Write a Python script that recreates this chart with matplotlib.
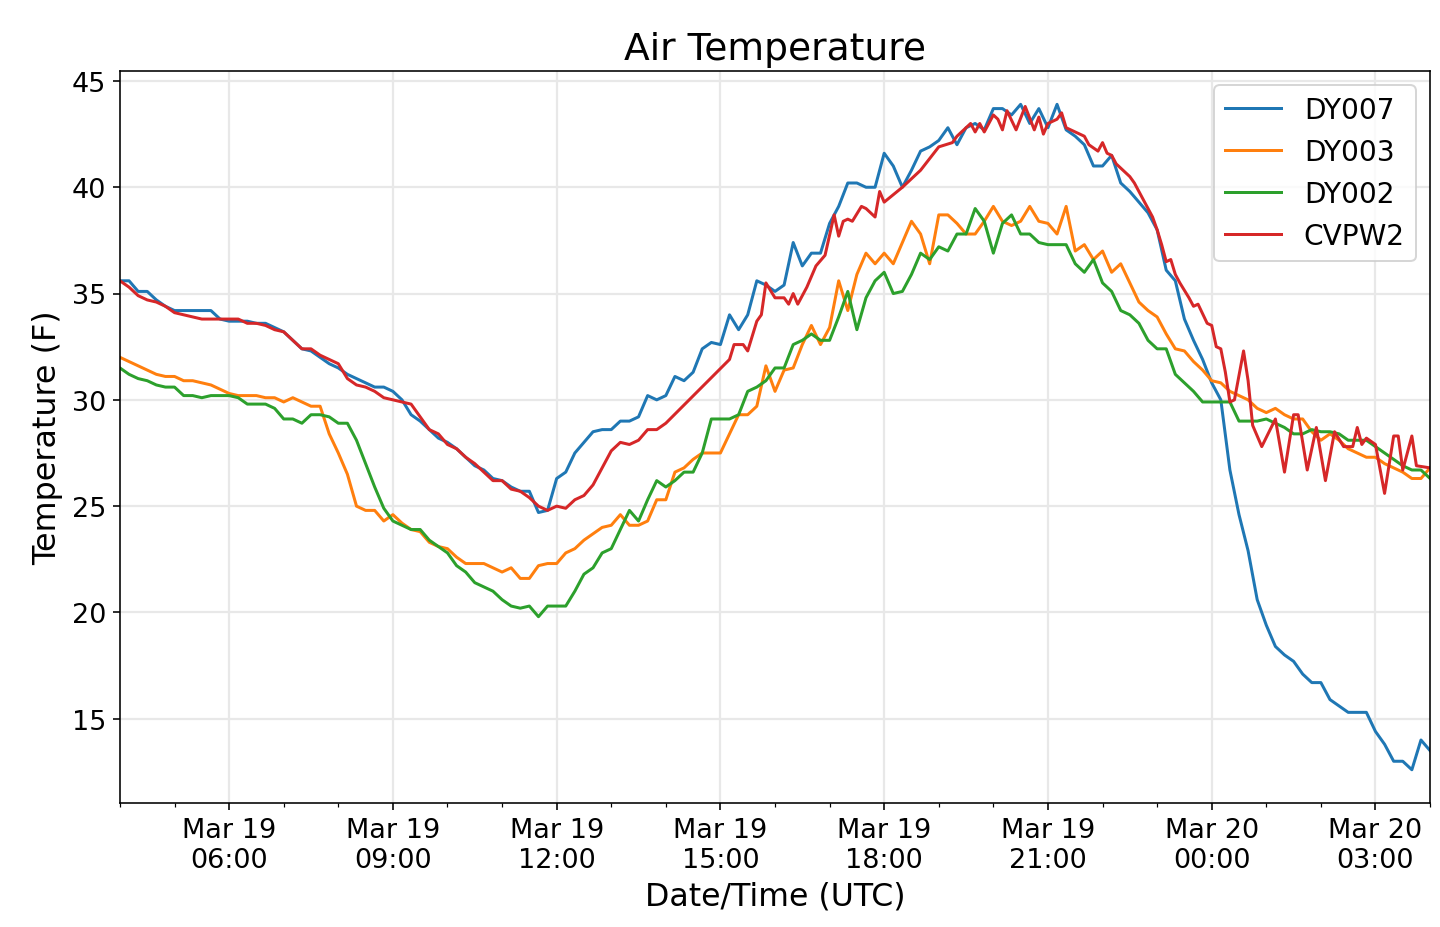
import numpy as np
import pandas as pd
import matplotlib
matplotlib.use('Agg')
import matplotlib.pyplot as plt
import matplotlib.dates as mdates

# 10-minute station readings starting Mar 19 04:00 UTC
start = pd.Timestamp('2019-03-19 04:00')

dy007 = [35.6, 35.6, 35.1, 35.1, 34.7, 34.4, 34.2, 34.2, 34.2, 34.2,
         34.2, 33.8, 33.7, 33.7, 33.7, 33.6, 33.6, 33.4, 33.2, 32.8,
         32.4, 32.3, 32.0, 31.7, 31.5, 31.2, 31.0, 30.8, 30.6, 30.6,
         30.4, 30.0, 29.3, 29.0, 28.6, 28.2, 28.0, 27.7, 27.3, 26.9,
         26.7, 26.3, 26.2, 25.9, 25.7, 25.7, 24.7, 24.8, 26.3, 26.6,
         27.5, 28.0, 28.5, 28.6, 28.6, 29.0, 29.0, 29.2, 30.2, 30.0,
         30.2, 31.1, 30.9, 31.3, 32.4, 32.7, 32.6, 34.0, 33.3, 34.0,
         35.6, 35.4, 35.1, 35.4, 37.4, 36.3, 36.9, 36.9, 38.3, 39.1,
         40.2, 40.2, 40.0, 40.0, 41.6, 41.0, 40.0, 40.8, 41.7, 41.9,
         42.2, 42.8, 42.0, 42.8, 43.0, 42.7, 43.7, 43.7, 43.4, 43.9,
         43.0, 43.7, 42.8, 43.9, 42.7, 42.4, 42.0, 41.0, 41.0, 41.5,
         40.2, 39.8, 39.3, 38.8, 38.0, 36.1, 35.6, 33.8, 32.8, 31.9,
         30.8, 30.0, 26.7, 24.6, 22.9, 20.6, 19.4, 18.4, 18.0, 17.7,
         17.1, 16.7, 16.7, 15.9, 15.6, 15.3, 15.3, 15.3, 14.4, 13.8,
         13.0, 13.0, 12.6, 14.0, 13.5]

dy003 = [32.0, 31.8, 31.6, 31.4, 31.2, 31.1, 31.1, 30.9, 30.9, 30.8,
         30.7, 30.5, 30.3, 30.2, 30.2, 30.2, 30.1, 30.1, 29.9, 30.1,
         29.9, 29.7, 29.7, 28.4, 27.5, 26.5, 25.0, 24.8, 24.8, 24.3,
         24.6, 24.2, 23.9, 23.8, 23.3, 23.1, 23.0, 22.6, 22.3, 22.3,
         22.3, 22.1, 21.9, 22.1, 21.6, 21.6, 22.2, 22.3, 22.3, 22.8,
         23.0, 23.4, 23.7, 24.0, 24.1, 24.6, 24.1, 24.1, 24.3, 25.3,
         25.3, 26.6, 26.8, 27.2, 27.5, 27.5, 27.5, 28.4, 29.3, 29.3,
         29.7, 31.6, 30.4, 31.4, 31.5, 32.6, 33.5, 32.6, 33.4, 35.6,
         34.2, 35.9, 36.9, 36.4, 36.9, 36.4, 37.4, 38.4, 37.8, 36.4,
         38.7, 38.7, 38.3, 37.8, 37.8, 38.4, 39.1, 38.4, 38.2, 38.4,
         39.1, 38.4, 38.3, 37.8, 39.1, 37.0, 37.3, 36.6, 37.0, 36.0,
         36.4, 35.5, 34.6, 34.2, 33.9, 33.1, 32.4, 32.3, 31.8, 31.4,
         30.9, 30.8, 30.4, 30.2, 30.0, 29.6, 29.4, 29.6, 29.3, 29.1,
         29.1, 28.5, 28.1, 28.4, 28.1, 27.7, 27.5, 27.3, 27.3, 27.0,
         26.8, 26.6, 26.3, 26.3, 26.8]

dy002 = [31.5, 31.2, 31.0, 30.9, 30.7, 30.6, 30.6, 30.2, 30.2, 30.1,
         30.2, 30.2, 30.2, 30.1, 29.8, 29.8, 29.8, 29.6, 29.1, 29.1,
         28.9, 29.3, 29.3, 29.2, 28.9, 28.9, 28.1, 27.0, 25.9, 24.9,
         24.3, 24.1, 23.9, 23.9, 23.4, 23.1, 22.8, 22.2, 21.9, 21.4,
         21.2, 21.0, 20.6, 20.3, 20.2, 20.3, 19.8, 20.3, 20.3, 20.3,
         21.0, 21.8, 22.1, 22.8, 23.0, 23.9, 24.8, 24.3, 25.3, 26.2,
         25.9, 26.2, 26.6, 26.6, 27.5, 29.1, 29.1, 29.1, 29.3, 30.4,
         30.6, 30.9, 31.5, 31.5, 32.6, 32.8, 33.1, 32.8, 32.8, 33.9,
         35.1, 33.3, 34.8, 35.6, 36.0, 35.0, 35.1, 35.9, 36.9, 36.6,
         37.2, 37.0, 37.8, 37.8, 39.0, 38.4, 36.9, 38.3, 38.7, 37.8,
         37.8, 37.4, 37.3, 37.3, 37.3, 36.4, 36.0, 36.6, 35.5, 35.1,
         34.2, 34.0, 33.6, 32.8, 32.4, 32.4, 31.2, 30.8, 30.4, 29.9,
         29.9, 29.9, 29.9, 29.0, 29.0, 29.0, 29.1, 28.9, 28.7, 28.4,
         28.4, 28.6, 28.5, 28.5, 28.4, 28.1, 28.1, 28.1, 27.8, 27.5,
         27.2, 26.9, 26.7, 26.7, 26.3]

# CVPW2 reports on its own schedule (minutes after 04:00), with a gap around midday
cvpw2_min = list(range(0, 601, 10)) + [
    670, 675, 685, 690, 700, 705, 710, 720, 730, 735, 740, 745, 755, 765, 775,
    785, 790, 795, 800, 805, 815, 820, 830, 835, 840, 860, 880, 900, 915, 920,
    930, 935, 940, 945, 950, 955, 960, 965, 970, 975, 985, 995, 1005, 1010, 1015,
    1020, 1030, 1035, 1040, 1050, 1060, 1065, 1075, 1080, 1085, 1090, 1095, 1100,
    1110, 1115, 1120, 1125, 1135, 1140, 1145, 1150, 1155, 1160, 1165, 1175, 1180,
    1185, 1195, 1200, 1205, 1210, 1215, 1220, 1225, 1235, 1240, 1245, 1255, 1270,
    1280, 1290, 1295, 1305, 1315, 1325, 1335, 1345, 1355, 1360, 1365, 1370, 1380,
    1390, 1400, 1405, 1410, 1420, 1425, 1440]
cvpw2 = [35.6, 35.3, 34.9, 34.7, 34.6, 34.4, 34.1, 34.0, 33.9, 33.8,
         33.8, 33.8, 33.8, 33.8, 33.6, 33.6, 33.5, 33.3, 33.2, 32.8,
         32.4, 32.4, 32.1, 31.9, 31.7, 31.0, 30.7, 30.6, 30.4, 30.1,
         30.0, 29.9, 29.8, 29.2, 28.6, 28.4, 27.9, 27.7, 27.3, 27.0,
         26.6, 26.2, 26.2, 25.8, 25.7, 25.4, 25.0, 24.8, 25.0, 24.9,
         25.3, 25.5, 26.0, 26.8, 27.6, 28.0, 27.9, 28.1, 28.6, 28.6,
         28.9,
         31.9, 32.6, 32.6, 32.3, 33.7, 34.0, 35.5, 34.8, 34.8, 34.5, 35.0, 34.5, 35.3, 36.3, 36.8,
         38.7, 37.7, 38.4, 38.5, 38.4, 39.1, 39.0, 38.6, 39.8, 39.3, 40.0, 40.8, 41.9, 42.1, 42.4,
         42.8, 43.0, 42.6, 43.0, 42.6, 43.0, 43.4, 43.2, 42.7, 43.6, 42.7, 43.8, 42.7, 43.3, 42.5,
         43.0, 43.2, 43.5, 42.8, 42.6, 42.4, 42.0, 41.7, 42.1, 41.6, 41.5, 41.1, 40.9,
         40.5, 40.2, 39.8, 39.4, 38.6, 38.0, 37.3, 36.5, 36.6, 35.9, 35.5, 34.8, 34.4,
         34.5, 33.6, 33.5, 32.5, 32.4, 31.3, 29.9, 30.0, 32.3, 30.9, 28.8, 27.8, 29.1,
         26.6, 29.3, 29.3, 26.7, 28.7, 26.2, 28.5, 27.8, 27.8, 28.7, 27.9, 28.2, 27.9,
         25.6, 28.3, 28.3, 26.7, 28.3, 26.9, 26.8]

times = start + pd.to_timedelta(np.arange(len(dy007)) * 10, unit='min')
cvpw2_times = start + pd.to_timedelta(np.array(cvpw2_min), unit='min')

fig, ax = plt.subplots(figsize=(10, 6.444), dpi=144)
fig.subplots_adjust(left=0.0833, right=0.9931, top=0.9224, bottom=0.1336)

ax.plot(times, dy007, color='tab:blue', lw=1.5, label='DY007')
ax.plot(times, dy003, color='tab:orange', lw=1.5, label='DY003')
ax.plot(times, dy002, color='tab:green', lw=1.5, label='DY002')
ax.plot(cvpw2_times, cvpw2, color='tab:red', lw=1.5, label='CVPW2')

ax.set_xlim(times[0], times[-1])
ax.xaxis.set_major_locator(mdates.HourLocator(byhour=range(0, 24, 3)))
ax.xaxis.set_minor_locator(mdates.HourLocator())
ax.xaxis.set_major_formatter(mdates.DateFormatter('%b %d\n%H:%M'))

ax.grid(True, which='major', color='#e8e8e8', lw=1.1)
ax.set_axisbelow(True)
ax.tick_params(axis='both', which='major', labelsize=13.5)

ax.set_title('Air Temperature', fontsize=18.8)
ax.set_xlabel('Date/Time (UTC)', fontsize=15.8)
ax.set_ylabel('Temperature (F)', fontsize=15.9)
ax.legend(loc='upper right', fontsize=14)

fig.savefig('out.png', dpi=144)
